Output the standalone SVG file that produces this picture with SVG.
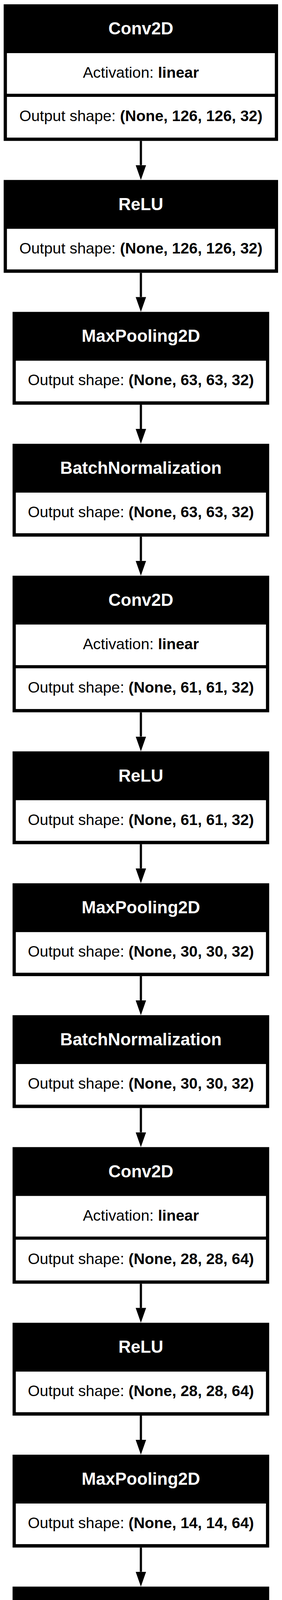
<svg xmlns="http://www.w3.org/2000/svg" width="722" height="7010" viewBox="0 0 722 7010">
<style>
.bg{fill:#fff}
.box{fill:#000}
.cell{fill:#fff}
.title{font-family:"Liberation Sans",Arial,Helvetica,sans-serif;font-weight:bold;font-size:44px;fill:#fff;text-anchor:middle}
.body{font-family:"Liberation Sans",Arial,Helvetica,sans-serif;font-size:39.3px;fill:#000;text-anchor:middle}
.b{font-weight:bold}
.edge{stroke:#000;stroke-width:5.7;fill:none}
</style>
<defs>
<marker id="ah" markerUnits="userSpaceOnUse" viewBox="0 0 38 26.7" refX="0" refY="13.35" markerWidth="38" markerHeight="26.7" orient="auto">
<path d="M0,0 L38,13.35 L0,26.7 z" fill="#000"/>
</marker>
</defs>
<rect class="bg" x="0" y="0" width="722" height="7010"/>

<g id="connectors">
<path class="edge" marker-end="url(#ah)" d="M360.7,360.7 V422.7"/>
<path class="edge" marker-end="url(#ah)" d="M360.7,698.4 V760.4"/>
<path class="edge" marker-end="url(#ah)" d="M360.7,1036.1 V1098.1"/>
<path class="edge" marker-end="url(#ah)" d="M360.7,1373.8 V1435.8"/>
<path class="edge" marker-end="url(#ah)" d="M360.7,1823.5 V1885.5"/>
<path class="edge" marker-end="url(#ah)" d="M360.7,2161.2 V2223.2"/>
<path class="edge" marker-end="url(#ah)" d="M360.7,2498.9 V2560.9"/>
<path class="edge" marker-end="url(#ah)" d="M360.7,2836.6 V2898.6"/>
<path class="edge" marker-end="url(#ah)" d="M360.7,3286.3 V3348.3"/>
<path class="edge" marker-end="url(#ah)" d="M360.7,3624 V3686"/>
<path class="edge" marker-end="url(#ah)" d="M360.7,3961.7 V4023.7"/>
<path class="edge" marker-end="url(#ah)" d="M360.7,4299.4 V4361.4"/>
<path class="edge" marker-end="url(#ah)" d="M360.7,4749.1 V4811.1"/>
<path class="edge" marker-end="url(#ah)" d="M360.7,5086.8 V5148.8"/>
<path class="edge" marker-end="url(#ah)" d="M360.7,5424.5 V5486.5"/>
<path class="edge" marker-end="url(#ah)" d="M360.7,5761.5 V5823.7"/>
<path class="edge" marker-end="url(#ah)" d="M360.7,6098.9 V6160.8"/>
<path class="edge" marker-end="url(#ah)" d="M360.7,6548.5 V6610.4"/>
</g>

<g id="node1_conv2d" transform="translate(0,11)">
<rect class="box" x="9.45" y="0" width="702.5" height="349.7"/>
<rect class="cell" x="17.75" y="125" width="685.9" height="104"/>
<rect class="cell" x="17.75" y="237" width="685.9" height="104.3"/>
<text class="title" x="360.7" y="77">Conv2D</text>
<text class="body" x="360.7" y="188">Activation: <tspan class="b">linear</tspan></text>
<text class="body" x="360.7" y="299">Output shape: <tspan class="b">(None, 126, 126, 32)</tspan></text>
</g>

<g id="node2_relu" transform="translate(0,460.7)">
<rect class="box" x="9.45" y="0" width="702.5" height="237.7"/>
<rect class="cell" x="17.75" y="125" width="685.9" height="104"/>
<text class="title" x="360.7" y="77">ReLU</text>
<text class="body" x="360.7" y="188">Output shape: <tspan class="b">(None, 126, 126, 32)</tspan></text>
</g>

<g id="node3_maxpooling2d" transform="translate(0,798.4)">
<rect class="box" x="32.2" y="0" width="657" height="237.7"/>
<rect class="cell" x="40.5" y="125" width="640.4" height="104"/>
<text class="title" x="360.7" y="77">MaxPooling2D</text>
<text class="body" x="360.7" y="188">Output shape: <tspan class="b">(None, 63, 63, 32)</tspan></text>
</g>

<g id="node4_batchnormalization" transform="translate(0,1136.1)">
<rect class="box" x="32.2" y="0" width="657" height="237.7"/>
<rect class="cell" x="40.5" y="125" width="640.4" height="104"/>
<text class="title" x="360.7" y="77">BatchNormalization</text>
<text class="body" x="360.7" y="188">Output shape: <tspan class="b">(None, 63, 63, 32)</tspan></text>
</g>

<g id="node5_conv2d" transform="translate(0,1473.8)">
<rect class="box" x="32.2" y="0" width="657" height="349.7"/>
<rect class="cell" x="40.5" y="125" width="640.4" height="104"/>
<rect class="cell" x="40.5" y="237" width="640.4" height="104.3"/>
<text class="title" x="360.7" y="77">Conv2D</text>
<text class="body" x="360.7" y="188">Activation: <tspan class="b">linear</tspan></text>
<text class="body" x="360.7" y="299">Output shape: <tspan class="b">(None, 61, 61, 32)</tspan></text>
</g>

<g id="node6_relu" transform="translate(0,1923.5)">
<rect class="box" x="32.2" y="0" width="657" height="237.7"/>
<rect class="cell" x="40.5" y="125" width="640.4" height="104"/>
<text class="title" x="360.7" y="77">ReLU</text>
<text class="body" x="360.7" y="188">Output shape: <tspan class="b">(None, 61, 61, 32)</tspan></text>
</g>

<g id="node7_maxpooling2d" transform="translate(0,2261.2)">
<rect class="box" x="32.2" y="0" width="657" height="237.7"/>
<rect class="cell" x="40.5" y="125" width="640.4" height="104"/>
<text class="title" x="360.7" y="77">MaxPooling2D</text>
<text class="body" x="360.7" y="188">Output shape: <tspan class="b">(None, 30, 30, 32)</tspan></text>
</g>

<g id="node8_batchnormalization" transform="translate(0,2598.9)">
<rect class="box" x="32.2" y="0" width="657" height="237.7"/>
<rect class="cell" x="40.5" y="125" width="640.4" height="104"/>
<text class="title" x="360.7" y="77">BatchNormalization</text>
<text class="body" x="360.7" y="188">Output shape: <tspan class="b">(None, 30, 30, 32)</tspan></text>
</g>

<g id="node9_conv2d" transform="translate(0,2936.6)">
<rect class="box" x="32.2" y="0" width="657" height="349.7"/>
<rect class="cell" x="40.5" y="125" width="640.4" height="104"/>
<rect class="cell" x="40.5" y="237" width="640.4" height="104.3"/>
<text class="title" x="360.7" y="77">Conv2D</text>
<text class="body" x="360.7" y="188">Activation: <tspan class="b">linear</tspan></text>
<text class="body" x="360.7" y="299">Output shape: <tspan class="b">(None, 28, 28, 64)</tspan></text>
</g>

<g id="node10_relu" transform="translate(0,3386.3)">
<rect class="box" x="32.2" y="0" width="657" height="237.7"/>
<rect class="cell" x="40.5" y="125" width="640.4" height="104"/>
<text class="title" x="360.7" y="77">ReLU</text>
<text class="body" x="360.7" y="188">Output shape: <tspan class="b">(None, 28, 28, 64)</tspan></text>
</g>

<g id="node11_maxpooling2d" transform="translate(0,3724)">
<rect class="box" x="32.2" y="0" width="657" height="237.7"/>
<rect class="cell" x="40.5" y="125" width="640.4" height="104"/>
<text class="title" x="360.7" y="77">MaxPooling2D</text>
<text class="body" x="360.7" y="188">Output shape: <tspan class="b">(None, 14, 14, 64)</tspan></text>
</g>

<g id="node12_batchnormalization" transform="translate(0,4061.7)">
<rect class="box" x="32.2" y="0" width="657" height="237.7"/>
<rect class="cell" x="40.5" y="125" width="640.4" height="104"/>
<text class="title" x="360.7" y="77">BatchNormalization</text>
<text class="body" x="360.7" y="188">Output shape: <tspan class="b">(None, 14, 14, 64)</tspan></text>
</g>

<g id="node13_conv2d" transform="translate(0,4399.4)">
<rect class="box" x="32.2" y="0" width="657" height="349.7"/>
<rect class="cell" x="40.5" y="125" width="640.4" height="104"/>
<rect class="cell" x="40.5" y="237" width="640.4" height="104.3"/>
<text class="title" x="360.7" y="77">Conv2D</text>
<text class="body" x="360.7" y="188">Activation: <tspan class="b">linear</tspan></text>
<text class="body" x="360.7" y="299">Output shape: <tspan class="b">(None, 12, 12, 64)</tspan></text>
</g>

<g id="node14_relu" transform="translate(0,4849.1)">
<rect class="box" x="32.2" y="0" width="657" height="237.7"/>
<rect class="cell" x="40.5" y="125" width="640.4" height="104"/>
<text class="title" x="360.7" y="77">ReLU</text>
<text class="body" x="360.7" y="188">Output shape: <tspan class="b">(None, 12, 12, 64)</tspan></text>
</g>

<g id="node15_maxpooling2d" transform="translate(0,5186.8)">
<rect class="box" x="55.7" y="0" width="610" height="237.7"/>
<rect class="cell" x="64" y="125" width="593.4" height="104"/>
<text class="title" x="360.7" y="77">MaxPooling2D</text>
<text class="body" x="360.7" y="188">Output shape: <tspan class="b">(None, 6, 6, 64)</tspan></text>
</g>

<g id="node16_batchnormalization" transform="translate(0,5523.8)">
<rect class="box" x="55.7" y="0" width="610" height="237.7"/>
<rect class="cell" x="64" y="125" width="593.4" height="104"/>
<text class="title" x="360.7" y="77">BatchNormalization</text>
<text class="body" x="360.7" y="188">Output shape: <tspan class="b">(None, 6, 6, 64)</tspan></text>
</g>

<g id="node17_flatten" transform="translate(0,5861.7)">
<rect class="box" x="76" y="0" width="569.4" height="237.2"/>
<rect class="cell" x="84.3" y="124.5" width="552.8" height="104"/>
<text class="title" x="360.7" y="76.5">Flatten</text>
<text class="body" x="360.7" y="187.5">Output shape: <tspan class="b">(None, 2304)</tspan></text>
</g>

<g id="node18_dense" transform="translate(0,6198.8)">
<rect class="box" x="87.7" y="0" width="546" height="349.7"/>
<rect class="cell" x="96" y="125" width="529.4" height="104"/>
<rect class="cell" x="96" y="237" width="529.4" height="104.3"/>
<text class="title" x="360.7" y="77">Dense</text>
<text class="body" x="360.7" y="188">Activation: <tspan class="b">relu</tspan></text>
<text class="body" x="360.7" y="299">Output shape: <tspan class="b">(None, 128)</tspan></text>
</g>

<g id="node19_dense" transform="translate(0,6648.4)">
<rect class="box" x="110.7" y="0" width="500" height="349.9"/>
<rect class="cell" x="119" y="125" width="483.4" height="104.4"/>
<rect class="cell" x="119" y="237.6" width="483.4" height="104"/>
<text class="title" x="360.7" y="77">Dense</text>
<text class="body" x="360.7" y="188">Activation: <tspan class="b">sigmoid</tspan></text>
<text class="body" x="360.7" y="299.5">Output shape: <tspan class="b">(None, 1)</tspan></text>
</g>
</svg>
